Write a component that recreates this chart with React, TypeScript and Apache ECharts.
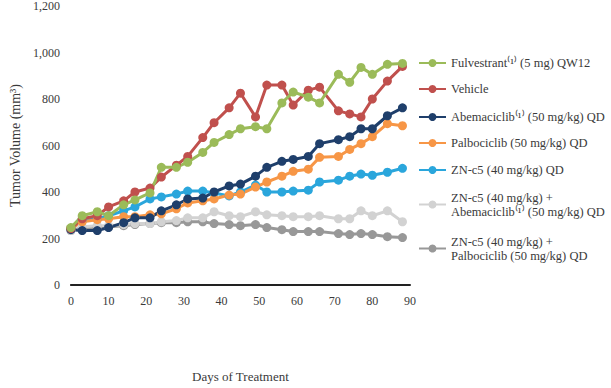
import React, { useEffect, useRef } from "react";
import * as echarts from "echarts";

const days = [0, 3, 7, 10, 14, 17, 21, 24, 28, 31, 35, 38, 42, 45, 49, 52, 56, 59, 63, 66, 71, 74, 77, 80, 84, 88];

const fulvestrant = [247, 298, 315, 298, 345, 366, 396, 506, 506, 528, 570, 613, 647, 672, 681, 672, 783, 830, 808, 783, 906, 872, 936, 906, 949, 953];
const vehicle = [243, 285, 298, 336, 362, 400, 417, 464, 515, 553, 634, 698, 762, 825, 723, 860, 860, 774, 838, 851, 749, 736, 723, 800, 877, 940];
const abemaciclib = [238, 234, 234, 247, 268, 289, 289, 319, 345, 370, 374, 400, 426, 434, 468, 506, 532, 540, 553, 608, 625, 638, 672, 672, 728, 762];
const palbociclib = [243, 272, 281, 285, 294, 294, 302, 306, 328, 353, 362, 370, 387, 391, 421, 443, 468, 489, 498, 549, 553, 583, 608, 638, 694, 685];
const znc5 = [243, 277, 285, 298, 319, 336, 370, 379, 391, 404, 404, 396, 383, 400, 430, 400, 400, 404, 408, 443, 451, 468, 477, 472, 485, 502];
const znc5Abema = [234, 251, 255, 255, 260, 264, 264, 272, 277, 289, 289, 315, 298, 294, 315, 302, 298, 294, 294, 298, 285, 285, 319, 298, 319, 272];
const znc5Palbo = [234, 243, 247, 251, 255, 260, 264, 268, 268, 272, 272, 264, 260, 255, 260, 247, 238, 230, 230, 230, 221, 217, 221, 217, 208, 204];

const seriesNames = [
  "Fulvestrant⁽¹⁾ (5 mg) QW12",
  "Vehicle",
  "Abemaciclib⁽¹⁾ (50 mg/kg) QD",
  "Palbociclib (50 mg/kg) QD",
  "ZN-c5 (40 mg/kg) QD",
  "ZN-c5 (40 mg/kg) +\nAbemaciclib⁽¹⁾ (50 mg/kg) QD",
  "ZN-c5 (40 mg/kg) +\nPalbociclib (50 mg/kg) QD",
];
const seriesValues = [fulvestrant, vehicle, abemaciclib, palbociclib, znc5, znc5Abema, znc5Palbo];
const seriesColors = ["#9bbb59", "#c0504d", "#1f3f6b", "#f79646", "#2aa6dc", "#d2d2d2", "#989898"];

const yTicks = { min: 0, max: 1200, interval: 200 };
const xTicks = { min: 0, max: 90, interval: 10 };

const FONT = "'Liberation Serif', 'Times New Roman', serif";
const legendCenters = [63, 89, 117, 143, 170, 198, 242];

export default function App() {
  const ref = useRef<HTMLDivElement>(null);
  useEffect(() => {
    document.body.style.margin = "0";
    const chart = echarts.init(ref.current!, undefined, { renderer: "svg" });
    const order = [6, 5, 4, 3, 2, 1, 0];
    const series = order.map((i) => ({
      name: seriesNames[i],
      type: "line",
      data: days.map((d, k) => [d, seriesValues[i][k]]),
      symbol: "circle",
      symbolSize: 9,
      color: seriesColors[i],
      lineStyle: { width: 3, color: seriesColors[i] },
      itemStyle: { color: seriesColors[i] },
      z: 2,
    }));
    const legends = seriesNames.map((name, i) => {
      const twoLine = name.includes("\n");
      return {
        data: [name],
        left: 418,
        top: twoLine ? legendCenters[i] - 21.5 : legendCenters[i] - 7,
        padding: 0,
        itemWidth: 27,
        itemHeight: 10,
        itemGap: 0,
        orient: "vertical",
        selectedMode: false,
        textStyle: {
          fontFamily: FONT,
          fontSize: 12.5,
          color: "#3a3a3a",
          lineHeight: 14,
          padding: twoLine ? [28, 0, 0, 0] : 0,
        },
      };
    });
    chart.setOption({
      animation: false,
      backgroundColor: "#ffffff",
      textStyle: { fontFamily: FONT },
      grid: { left: 58, right: 201, top: 5, bottom: 101, containLabel: false },
      legend: legends,
      xAxis: {
        type: "value",
        ...xTicks,
        name: "Days of Treatment",
        nameLocation: "middle",
        nameGap: 85,
        nameTextStyle: { fontFamily: FONT, fontSize: 13, color: "#3a3a3a" },
        axisLine: { show: true, lineStyle: { color: "#222", width: 2 } },
        axisTick: { show: false },
        splitLine: { show: false },
        axisLabel: { fontFamily: FONT, fontSize: 12, color: "#3a3a3a", margin: 10 },
      },
      yAxis: {
        type: "value",
        ...yTicks,
        name: "Tumor Volume (mm³)",
        nameLocation: "middle",
        nameGap: 42,
        nameTextStyle: { fontFamily: FONT, fontSize: 14, color: "#3a3a3a" },
        axisLine: { show: false },
        axisTick: { show: false },
        splitLine: { show: false },
        axisLabel: {
          fontFamily: FONT,
          fontSize: 12,
          color: "#3a3a3a",
          margin: 11,
          formatter: (v: number) => v.toLocaleString("en-US"),
        },
      },
      series,
    });
    return () => chart.dispose();
  }, []);
  return <div ref={ref} style={{ width: 611, height: 388 }} />;
}
